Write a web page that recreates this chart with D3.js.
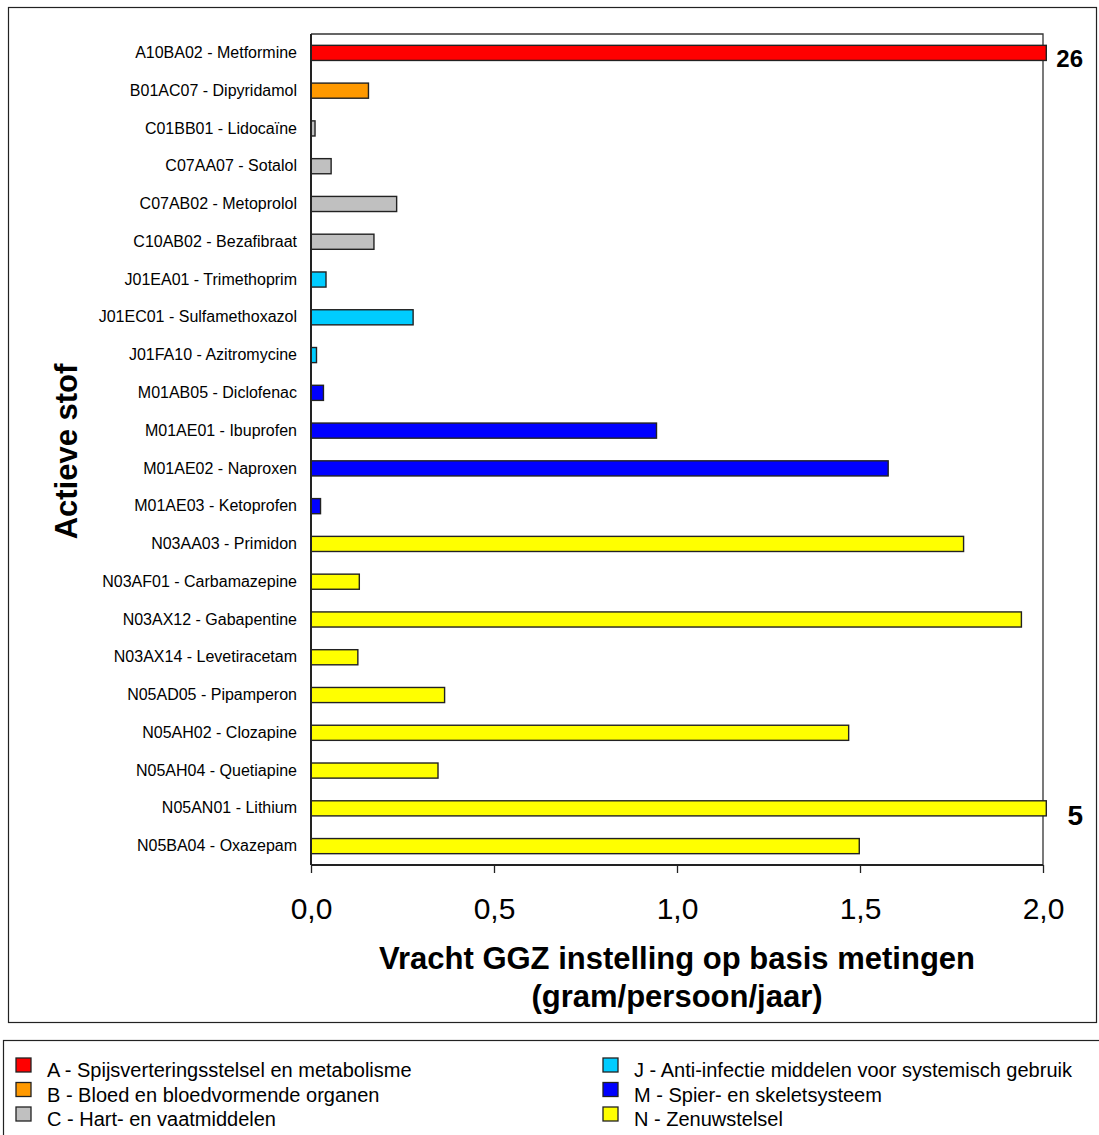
<!DOCTYPE html>
<html>
<head>
<meta charset="utf-8">
<script src="https://cdn.jsdelivr.net/npm/d3@7"></script>
<style>
  html, body { margin: 0; padding: 0; background: #fff; }
  svg { display: block; font-family: "Liberation Sans", Arial, sans-serif; }
</style>
</head>
<body>
<svg id="chart" width="1099" height="1135"></svg>
<script>
// ---- data ----
const categories = [
  "A10BA02 - Metformine", "B01AC07 - Dipyridamol", "C01BB01 - Lidocaïne",
  "C07AA07 - Sotalol", "C07AB02 - Metoprolol", "C10AB02 - Bezafibraat",
  "J01EA01 - Trimethoprim", "J01EC01 - Sulfamethoxazol", "J01FA10 - Azitromycine",
  "M01AB05 - Diclofenac", "M01AE01 - Ibuprofen", "M01AE02 - Naproxen",
  "M01AE03 - Ketoprofen", "N03AA03 - Primidon", "N03AF01 - Carbamazepine",
  "N03AX12 - Gabapentine", "N03AX14 - Levetiracetam", "N05AD05 - Pipamperon",
  "N05AH02 - Clozapine", "N05AH04 - Quetiapine", "N05AN01 - Lithium",
  "N05BA04 - Oxazepam"
];
const values = [
  26, 0.157, 0.011,
  0.055, 0.234, 0.172,
  0.041, 0.279, 0.015,
  0.034, 0.944, 1.577,
  0.026, 1.783, 0.132,
  1.941, 0.128, 0.365,
  1.469, 0.347, 5,
  1.498
];
const groups = ["A","B","C","C","C","C","J","J","J","M","M","M","M","N","N","N","N","N","N","N","N","N"];
const groupKeys = ["A","B","C","J","M","N"];
const groupLabels = [
  "A - Spijsverteringsstelsel en metabolisme",
  "B - Bloed en bloedvormende organen",
  "C - Hart- en vaatmiddelen",
  "J - Anti-infectie middelen voor systemisch gebruik",
  "M - Spier- en skeletsysteem",
  "N - Zenuwstelsel"
];
const groupColors = ["#FF0000", "#FF9900", "#C0C0C0", "#00CCFF", "#0000FF", "#FFFF00"];
const xTicks = [0, 0.5, 1.0, 1.5, 2.0];
const xMax = 2.0;
const xTitle = ["Vracht GGZ instelling op basis metingen", "(gram/persoon/jaar)"];
const yTitle = "Actieve stof";

// ---- layout ----
const svg = d3.select("#chart");
const plot = { left: 311, right: 1043, top: 34, bottom: 865 };

const x = d3.scaleLinear().domain([0, xMax]).range([plot.left, plot.right]);
const y = d3.scaleBand().domain(categories).range([plot.top, plot.bottom]).paddingInner(0.6).paddingOuter(0.3);
const color = d3.scaleOrdinal().domain(groupKeys).range(groupColors);
const fmt = d => d3.format(".1f")(d).replace(".", ",");

// outer chart border
svg.append("rect").attr("x", 8.5).attr("y", 7.5).attr("width", 1088).attr("height", 1015)
  .attr("fill", "none").attr("stroke", "#222").attr("stroke-width", 1.2);
// legend border
svg.append("rect").attr("x", 3.5).attr("y", 1040.5).attr("width", 1110).attr("height", 120)
  .attr("fill", "none").attr("stroke", "#222").attr("stroke-width", 1.2);

// plot frame (top and right)
svg.append("path")
  .attr("d", `M${plot.left},${plot.top}H${plot.right}V${plot.bottom}`)
  .attr("fill", "none").attr("stroke", "#333").attr("stroke-width", 1.3);

// bars
const dataRows = categories.map((c, i) => ({ c, v: values[i], g: groups[i] }));
const capX = x(xMax * 1.0045);
svg.append("g").selectAll("rect").data(dataRows).join("rect")
  .attr("x", x(0))
  .attr("y", d => y(d.c))
  .attr("width", d => Math.min(x(d.v), capX) - x(0))
  .attr("height", y.bandwidth())
  .attr("fill", d => color(d.g))
  .attr("stroke", "#222")
  .attr("stroke-width", 1.4);

// value labels for bars exceeding axis
svg.append("g").selectAll("text").data(dataRows.filter(d => d.v > xMax)).join("text")
  .attr("x", x(xMax) + 40)
  .attr("y", d => y(d.c) + y.bandwidth() / 2)
  .attr("dy", "0.6em")
  .attr("text-anchor", "end")
  .attr("font-weight", "bold")
  .attr("font-size", d => d.v >= 10 ? 24 : 28)
  .attr("fill", "#000")
  .text(d => d.v);

// y axis
const yAxis = svg.append("g").attr("transform", `translate(${plot.left},0)`)
  .call(d3.axisLeft(y).tickSize(0).tickPadding(14));
yAxis.select(".domain").attr("stroke", "#222").attr("stroke-width", 2)
  .attr("d", `M0,${plot.top}V${plot.bottom}`);
yAxis.selectAll("text").attr("font-size", 16)
  .attr("fill", "#000").attr("font-family", "Liberation Sans, Arial, sans-serif");

// x axis
const xAxis = svg.append("g").attr("transform", `translate(0,${plot.bottom})`)
  .call(d3.axisBottom(x).tickValues(xTicks).tickFormat(fmt).tickSize(8).tickPadding(25));
xAxis.select(".domain").attr("stroke", "#222").attr("stroke-width", 2)
  .attr("d", `M${plot.left},0H${plot.right}`);
xAxis.selectAll("line").attr("stroke", "#222").attr("stroke-width", 1.3);
xAxis.selectAll("text").attr("font-size", 30).attr("fill", "#000")
  .attr("font-family", "Liberation Sans, Arial, sans-serif");

// axis titles
svg.append("g").selectAll("text").data(xTitle).join("text")
  .attr("x", (plot.left + plot.right) / 2)
  .attr("y", (d, i) => 969 + i * 38)
  .attr("text-anchor", "middle")
  .attr("font-size", 31).attr("font-weight", "bold").attr("fill", "#000")
  .text(d => d);

svg.append("text")
  .attr("transform", `translate(77,${(plot.top + plot.bottom) / 2 + 2}) rotate(-90)`)
  .attr("text-anchor", "middle")
  .attr("font-size", 31).attr("font-weight", "bold").attr("fill", "#000")
  .text(yTitle);

// legend
const legendRows = groupKeys.map((k, i) => ({ k, label: groupLabels[i], col: Math.floor(i / 3), row: i % 3 }));
const lg = svg.append("g").selectAll("g").data(legendRows).join("g")
  .attr("transform", d => `translate(${d.col === 0 ? 16 : 603},${1065 + d.row * 24.5})`);
lg.append("rect").attr("x", 0).attr("y", -7).attr("width", 15).attr("height", 14)
  .attr("fill", d => color(d.k)).attr("stroke", "#222").attr("stroke-width", 1.3);
lg.append("text").attr("x", 31).attr("y", 12)
  .attr("font-size", 20).attr("fill", "#000")
  .text(d => d.label);
</script>
</body>
</html>
